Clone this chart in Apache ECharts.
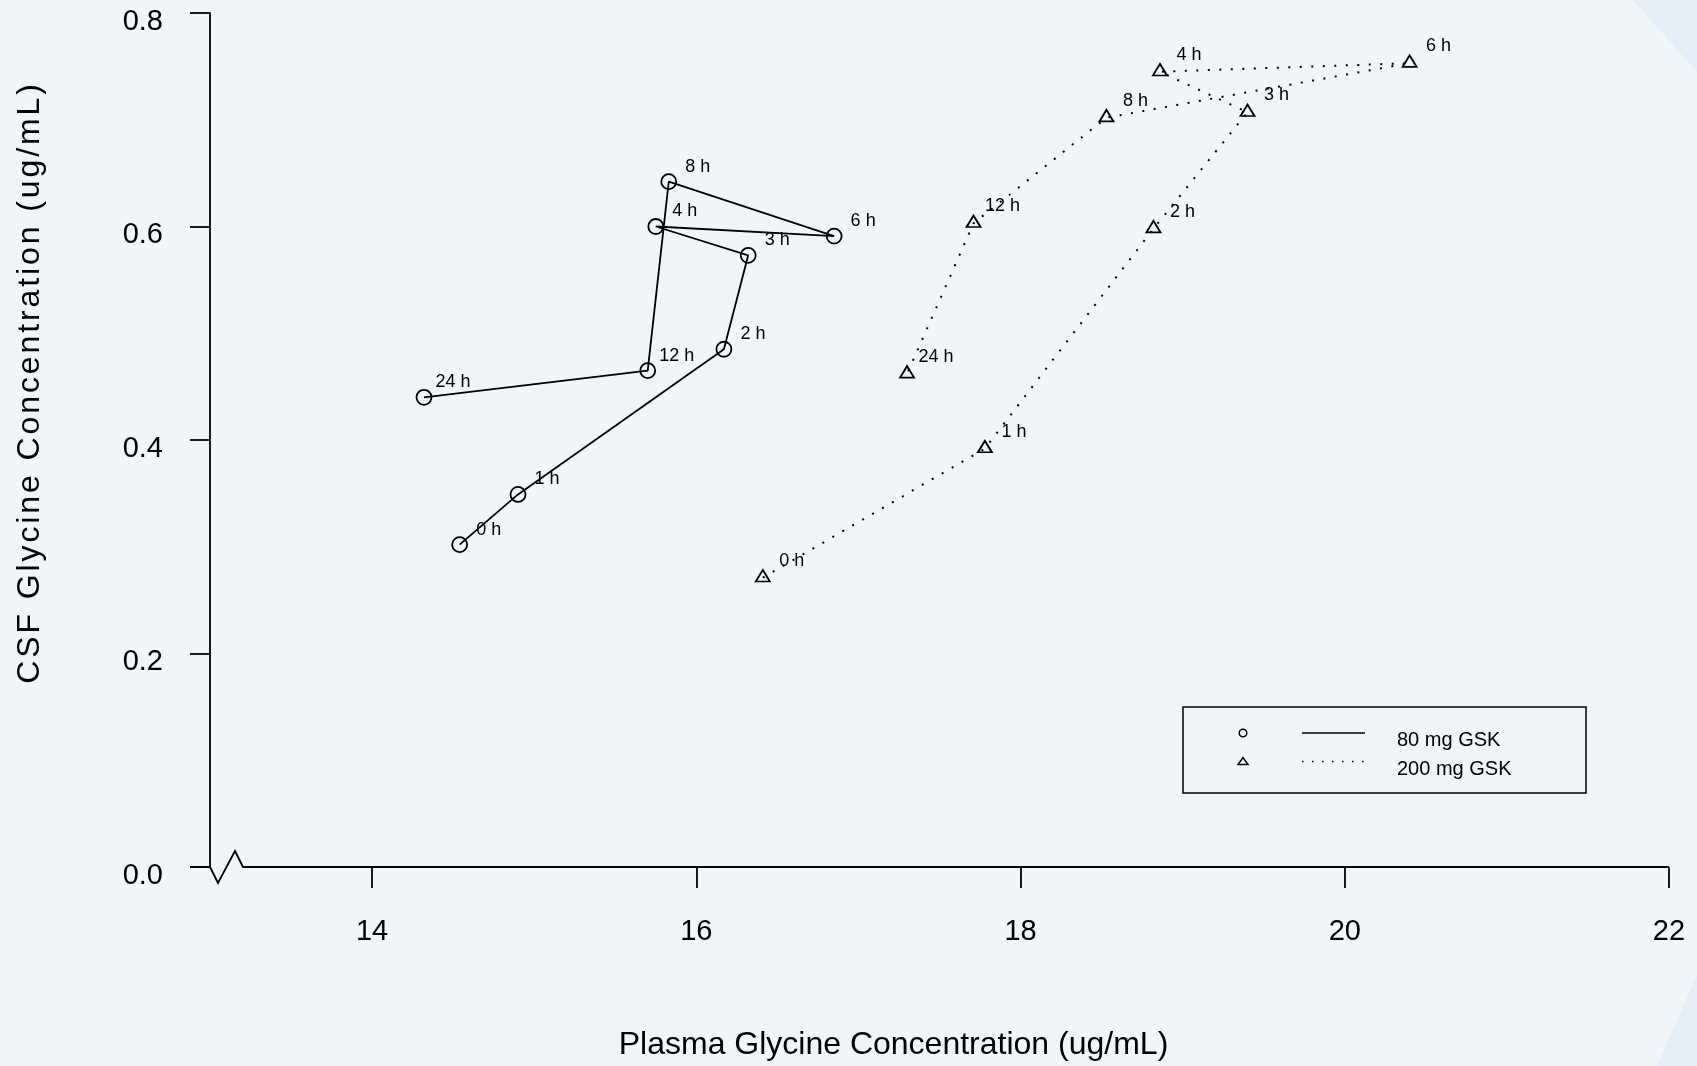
<!DOCTYPE html>
<html>
<head>
<meta charset="utf-8">
<style>
html, body { margin: 0; padding: 0; background: #f0f5fa; }
#chart { width: 1697px; height: 1066px; }
</style>
<script src="https://cdn.jsdelivr.net/npm/echarts@6/dist/echarts.min.js"></script>
</head>
<body>
<div id="chart"></div>
<script>
// time point labels (same for both doses)
const timeLabels = ['0 h', '1 h', '2 h', '3 h', '4 h', '6 h', '8 h', '12 h', '24 h'];

// 80 mg GSK
const plasma80 = [14.54, 14.90, 16.17, 16.32, 15.75, 16.85, 15.83, 15.70, 14.32];
const csf80 = [0.302, 0.349, 0.485, 0.573, 0.600, 0.591, 0.642, 0.465, 0.440];

// 200 mg GSK
const plasma200 = [16.41, 17.78, 18.82, 19.40, 18.86, 20.40, 18.53, 17.71, 17.30];
const csf200 = [0.271, 0.392, 0.598, 0.707, 0.745, 0.753, 0.702, 0.603, 0.462];

// axis ticks
const xTicks = [14, 16, 18, 20, 22];

const FONT = '"Liberation Sans", Arial, Helvetica, sans-serif';
const chart = echarts.init(document.getElementById('chart'));

function pairs(xs, ys) {
    return xs.map((x, i) => [x, ys[i]]);
}

// y title is drawn letter-spaced, like the original
const yTitle = 'CSF Glycine Concentration (ug/mL)';
const yTitleRich = yTitle.split('').map(ch => '{c|' + ch + '}').join('');

const pointLabel = {
    show: true,
    position: 'inside',
    offset: [29, -15],
    fontSize: 18,
    fontFamily: FONT,
    color: '#000',
    formatter: p => timeLabels[p.dataIndex]
};

const option = {
    backgroundColor: '#f0f5fa',
    animation: false,
    textStyle: { fontFamily: FONT, color: '#000' },
    grid: { left: 210, right: 28, top: 13, bottom: 199 },
    xAxis: {
        type: 'value',
        min: 13,
        max: 22,
        interval: 1,
        name: 'Plasma Glycine Concentration (ug/mL)',
        nameLocation: 'middle',
        nameGap: 162,
        nameTextStyle: { fontSize: 32, color: '#000', fontFamily: FONT, padding: [0, 92, 0, 0] },
        axisLine: { show: false },
        axisTick: { show: true, length: 21, customValues: xTicks, lineStyle: { color: '#000', width: 1.8 } },
        axisLabel: { fontSize: 29, color: '#000', fontFamily: FONT, margin: 50, customValues: xTicks },
        splitLine: { show: false }
    },
    yAxis: {
        type: 'value',
        min: 0,
        max: 0.8,
        interval: 0.2,
        name: yTitleRich,
        nameLocation: 'middle',
        nameGap: 164,
        nameTextStyle: {
            fontSize: 32, color: '#000', fontFamily: FONT, padding: [0, 0, 0, 115],
            rich: { c: { fontSize: 32, color: '#000', fontFamily: FONT, padding: [0, 2.9, 0, 0] } }
        },
        axisLine: { show: true, lineStyle: { color: '#000', width: 1.8 } },
        axisTick: { show: true, length: 20, lineStyle: { color: '#000', width: 1.8 } },
        axisLabel: {
            fontSize: 29, color: '#000', fontFamily: FONT, margin: 47,
            verticalAlign: 'top', lineHeight: 17,
            formatter: v => v.toFixed(1)
        },
        splitLine: { show: false }
    },
    series: [
        {
            name: '80 mg GSK',
            type: 'line',
            data: pairs(plasma80, csf80),
            symbol: 'circle',
            symbolSize: 15,
            itemStyle: { color: 'transparent', borderColor: '#000', borderWidth: 1.8 },
            lineStyle: { color: '#000', width: 1.8, type: 'solid' },
            label: pointLabel,
            emphasis: { disabled: true }
        },
        {
            name: '200 mg GSK',
            type: 'line',
            data: pairs(plasma200, csf200),
            symbol: 'triangle',
            symbolSize: [14, 11.5],
            symbolOffset: [0, -2],
            itemStyle: { color: 'transparent', borderColor: '#000', borderWidth: 1.8 },
            lineStyle: { color: '#000', width: 2, type: [2, 9.5], cap: 'butt' },
            label: pointLabel,
            emphasis: { disabled: true }
        }
    ]
};

chart.setOption(option);

// x axis line with the break mark near the origin
const o = chart.convertToPixel({ gridIndex: 0 }, [13, 0]);
const e = chart.convertToPixel({ gridIndex: 0 }, [22, 0]);

chart.setOption({
    graphic: [
        // faint background corners
        { type: 'polygon', z: -1, shape: { points: [[1633, 0], [1697, 0], [1697, 72]] }, style: { fill: '#e3eef7' } },
        { type: 'polygon', z: -1, shape: { points: [[1697, 975], [1697, 1066], [1657, 1066]] }, style: { fill: '#e3eef7' } },
        {
            type: 'polyline',
            shape: {
                points: [
                    [o[0] - 20, o[1]], [o[0], o[1]], [o[0] + 8, o[1] + 16],
                    [o[0] + 25, o[1] - 16], [o[0] + 33, o[1]], [e[0], o[1]]
                ]
            },
            style: { stroke: '#000', lineWidth: 1.8, fill: null }
        },
        // legend box
        { type: 'rect', shape: { x: 1183, y: 707, width: 403, height: 86 }, style: { fill: null, stroke: '#000', lineWidth: 1.5 } },
        { type: 'circle', shape: { cx: 1243, cy: 733, r: 3.8 }, style: { fill: null, stroke: '#000', lineWidth: 1.5 } },
        { type: 'line', shape: { x1: 1302, y1: 733, x2: 1365, y2: 733 }, style: { stroke: '#000', lineWidth: 1.5 } },
        { type: 'text', x: 1397, y: 740, style: { text: '80 mg GSK', fontSize: 20, fontFamily: FONT, fill: '#000', verticalAlign: 'middle' } },
        { type: 'polygon', shape: { points: [[1243, 757.5], [1238, 764.5], [1248, 764.5]] }, style: { fill: null, stroke: '#000', lineWidth: 1.5 } },
        { type: 'line', shape: { x1: 1302, y1: 761.5, x2: 1364, y2: 761.5 }, style: { stroke: '#000', lineWidth: 1.5, lineDash: [1.5, 8.5] } },
        { type: 'text', x: 1397, y: 769, style: { text: '200 mg GSK', fontSize: 20, fontFamily: FONT, fill: '#000', verticalAlign: 'middle' } }
    ]
});
</script>
</body>
</html>
